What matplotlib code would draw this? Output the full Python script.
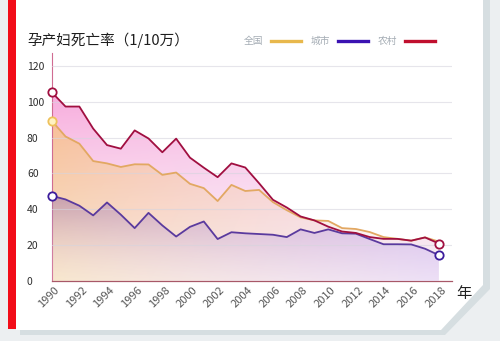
import numpy as np
import matplotlib
matplotlib.use("Agg")
import matplotlib.pyplot as plt
from matplotlib.patches import Polygon, Rectangle
from matplotlib.colors import to_rgb
import matplotlib.transforms as mtransforms

plt.rcParams['font.family'] = ['Noto Sans CJK SC', 'DejaVu Sans']

# data
years = list(range(1990, 2019))
national = [89.4, 80.6, 76.6, 66.9, 65.6, 63.6, 65.1, 65.0, 59.2, 60.5,
            54.2, 51.8, 44.6, 53.6, 50.2, 50.8, 44.0, 39.5, 35.5, 33.8,
            33.5, 29.5, 29.0, 27.3, 24.5, 23.5, 22.5, 24.3, 22.0]
urban = [47.5, 45.5, 42.0, 36.6, 43.8, 37.0, 29.5, 38.0, 31.0, 24.8,
         30.2, 33.2, 23.4, 27.2, 26.6, 26.2, 25.8, 24.5, 28.8, 26.8,
         28.8, 26.6, 26.4, 23.4, 20.5, 20.5, 20.4, 18.0, 14.4]
rural = [105.3, 97.3, 97.3, 85.0, 75.8, 73.8, 84.0, 79.5, 71.8, 79.4,
         68.8, 63.2, 57.9, 65.6, 63.3, 54.5, 45.3, 41.0, 36.0, 33.8,
         30.3, 27.6, 26.8, 24.5, 23.5, 23.5, 22.5, 24.3, 20.9]
series_names = ['全国', '城市', '农村']
yticks = [0, 20, 40, 60, 80, 100, 120]
xticks = list(range(1990, 2019, 2))

W, H = 500, 341
fig = plt.figure(figsize=(W / 100, H / 100), dpi=100, facecolor='#eceff1')


def px(x, y):
    return (x / W, 1 - y / H)


# card, shadow and red bar
shadow = [px(20, 0), px(490, 0), px(490, 289), px(445, 335), px(20, 335)]
fig.add_artist(Polygon(shadow, closed=True, transform=fig.transFigure,
                       facecolor='#d6dee1', edgecolor='none', zorder=-3))
card = [px(16, 0), px(483, 0), px(483, 285), px(441, 330), px(16, 330)]
fig.add_artist(Polygon(card, closed=True, transform=fig.transFigure,
                       facecolor='white', edgecolor='none', zorder=-2))
x0, y0 = px(7.5, 329)
fig.add_artist(Rectangle((x0, y0), 8 / W, 329 / H, transform=fig.transFigure,
                         facecolor='#f20d18', edgecolor='none', zorder=-1))

ax = fig.add_axes([51.7 / W, 60 / H, (452 - 51.7) / W, (281 - 53.3) / H])
ax.set_facecolor('none')

c_nat, c_urb, c_rur = '#e2a862', '#5a3a9e', '#a00f40'

YTOP = 127
ny, nx = 160, 200
yy = np.linspace(0, YTOP, ny)[:, None]
xx = np.linspace(0, 1, nx)[None, :]


def grad(c_left, c_right, c_bot_l, c_bot_r, a_top, a_bot, vtop,
         fade_right=0.0, a_bot_right=None):
    cl, cr, bl, br = (np.array(to_rgb(c)) for c in (c_left, c_right, c_bot_l, c_bot_r))
    t = np.clip(yy / vtop, 0, 1)
    img = np.zeros((ny, nx, 4))
    for k in range(3):
        top = cl[k] * (1 - xx) + cr[k] * xx
        bot = bl[k] * (1 - xx) + br[k] * xx
        img[..., k] = top * t + bot * (1 - t)
    if a_bot_right is None:
        a_bot_right = a_bot
    ab = a_bot * (1 - xx) + a_bot_right * xx
    img[..., 3] = (ab + (a_top - ab) * t) * (1 - fade_right * xx)
    return img


def grad_fill(vals, img, z):
    poly = ax.fill_between(years, 0, vals, facecolor='none', edgecolor='none')
    im = ax.imshow(img, extent=[years[0], years[-1], 0, YTOP], origin='lower',
                   aspect='auto', interpolation='bilinear', zorder=z)
    im.set_clip_path(poly.get_paths()[0], transform=ax.transData)


grad_fill(rural, grad('#f590d2', '#f4a8dc', '#f8d0e8', '#f0d8f0',
                      0.75, 0.3, 105), 1)
grad_fill(national, grad('#f8c08c', '#f6c8c0', '#f8e4b8', '#f4e0e8',
                         0.85, 0.7, 90, 0.7), 2)
grad_fill(urban, grad('#9468a6', '#b394ea', '#f4e4f0', '#e4d4f6',
                      0.5, 0.1, 48, 0.0, 0.55), 3)

ax.plot(years, national, color=c_nat, lw=1.3, zorder=5, label=series_names[0])
ax.plot(years, urban, color=c_urb, lw=1.3, zorder=5, label=series_names[1])
ax.plot(years, rural, color=c_rur, lw=1.3, zorder=5, label=series_names[2])

ax.plot([years[0]], [national[0]], 'o', ms=6, mfc='#fff2c2', mec='#eec25c',
        mew=1.3, zorder=6, clip_on=False)
ax.plot([years[0], years[-1]], [urban[0], urban[-1]], 'o', ms=6, mfc='white',
        mec='#3c1c9c', mew=1.3, zorder=6, clip_on=False)
ax.plot([years[0], years[-1]], [rural[0], rural[-1]], 'o', ms=6, mfc='white',
        mec=c_rur, mew=1.3, zorder=7, clip_on=False)

ax.set_xlim(1990, 2018.95)
ax.set_ylim(0, YTOP)

ax.set_yticks(yticks)
ax.set_yticklabels([str(v) for v in yticks])
ax.tick_params(axis='y', length=0, pad=17.8, labelsize=7.5, labelcolor='#2e2e2e')
for lbl in ax.get_yticklabels():
    lbl.set_ha('left')

ax.set_xticks(xticks)
ax.set_xticklabels([str(v) for v in xticks], rotation=45, ha='center')
ax.tick_params(axis='x', length=0, pad=3, labelsize=8, labelcolor='#555555')
shift = mtransforms.ScaledTranslation(-3 / 100, 0, fig.dpi_scale_trans)
for lbl in ax.get_xticklabels():
    lbl.set_transform(lbl.get_transform() + shift)

for v in yticks[1:]:
    ax.axhline(v, color='#d6d4de', lw=0.8, alpha=0.6, zorder=4)

for s in ['top', 'right']:
    ax.spines[s].set_visible(False)
ax.spines['left'].set_color('#d06c92')
ax.spines['left'].set_linewidth(0.8)
ax.spines['bottom'].set_color('#a85868')
ax.spines['bottom'].set_linewidth(0.9)

leg = ax.legend(loc='center right', bbox_to_anchor=px(440, 41),
                bbox_transform=fig.transFigure, ncol=3, frameon=False,
                markerfirst=False, fontsize=7, borderpad=0,
                handlelength=3.1, handletextpad=0.8, columnspacing=1.0)
for line, c in zip(leg.get_lines(), ['#e8b84c', '#3a12b2', '#c00f2e']):
    line.set_linewidth(2.4)
    line.set_color(c)
for t in leg.get_texts():
    t.set_color('#a4acb4')

tx, ty = px(27, 40)
fig.text(tx, ty, '孕产妇死亡率（1/10万）', ha='left', va='center',
         fontsize=10.5, color='#1e1e1e')
nx_, ny_ = px(464, 293.5)
fig.text(nx_, ny_, '年', ha='center', va='center', fontsize=11, color='#222222')

fig.savefig('out.png', dpi=100, facecolor=fig.get_facecolor())
